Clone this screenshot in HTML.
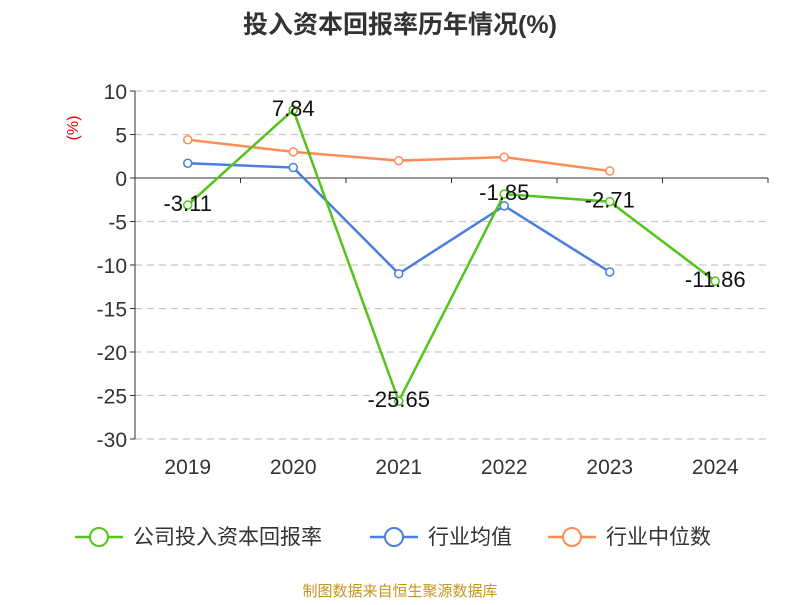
<!DOCTYPE html>
<html><head><meta charset="utf-8"><style>
body{margin:0;background:#fff;font-family:"Liberation Sans","Noto Sans CJK SC",sans-serif;}
</style></head><body>
<svg width="800" height="600" xmlns="http://www.w3.org/2000/svg" font-family="Liberation Sans, Noto Sans CJK SC, sans-serif">
<text x="400" y="33" text-anchor="middle" font-size="25" font-weight="bold" fill="#333">投入资本回报率历年情况(%)</text>
<text x="78" y="128" font-size="16" fill="#e00" transform="rotate(-90 78 128)" text-anchor="middle">(%)</text>
<g id="grid"></g><g id="axes"></g><g id="series"></g>
<g font-size="21" fill="#333">
<g><line x1="75" y1="537" x2="123" y2="537" stroke="#52c41a" stroke-width="2.5"/><circle cx="99" cy="537" r="9" fill="#fff" stroke="#52c41a" stroke-width="2"/><text x="133" y="544">公司投入资本回报率</text></g>
<g><line x1="370" y1="537" x2="418" y2="537" stroke="#4a7de0" stroke-width="2.5"/><circle cx="394" cy="537" r="9" fill="#fff" stroke="#4a7de0" stroke-width="2"/><text x="428" y="544">行业均值</text></g>
<g><line x1="548" y1="537" x2="596" y2="537" stroke="#ff8c55" stroke-width="2.5"/><circle cx="572" cy="537" r="9" fill="#fff" stroke="#ff8c55" stroke-width="2"/><text x="606" y="544">行业中位数</text></g>
</g>
<text x="400" y="596" text-anchor="middle" font-size="15" fill="#c8961e">制图数据来自恒生聚源数据库</text>
</svg>
<script>
const categories=["2019","2020","2021","2022","2023","2024"];
const companyValues=[-3.11,7.84,-25.65,-1.85,-2.71,-11.86];
const industryAvg=[1.7,1.2,-11.0,-3.2,-10.8,null];
const industryMedian=[4.4,3.0,2.0,2.4,0.8,null];
const yTicks=[10,5,0,-5,-10,-15,-20,-25,-30];
const NS="http://www.w3.org/2000/svg";
const left=135,right=768,yTop=91,yBot=439,yMax=10,yMin=-30;
const y=v=>yTop+(yMax-v)/(yMax-yMin)*(yBot-yTop);
const band=(right-left)/categories.length;
const x=i=>left+band*(i+0.5);
function mk(t,a,p){const e=document.createElementNS(NS,t);for(const k in a)e.setAttribute(k,a[k]);p.appendChild(e);return e;}
const grid=document.getElementById('grid'),axes=document.getElementById('axes'),ser=document.getElementById('series');
yTicks.forEach(t=>{
 if(t!==0){const g=mk('line',{x1:left,x2:right,y1:y(t),y2:y(t),stroke:'#c8c8c8','stroke-dasharray':'7,5','stroke-width':1.2},grid);
 
 }
 const tk=mk('line',{x1:left-5,x2:left,y1:y(t),y2:y(t),stroke:'#333'},axes);
 
 
 const l=mk('text',{x:left-8,y:y(t)+8,'text-anchor':'end','font-size':21,fill:'#333'},axes);l.textContent=t;
 
 
});
const ya=mk('line',{x1:left,x2:left,y1:yTop,y2:yBot,stroke:'#333'},axes);


const xa=mk('line',{x1:left,x2:right,y1:y(0),y2:y(0),stroke:'#333'},axes);


for(let i=0;i<=categories.length;i++){const t=mk('line',{x1:left+band*i,x2:left+band*i,y1:y(0),y2:y(0)+5,stroke:'#333'},axes);
 
 }
categories.forEach((c,i)=>{const l=mk('text',{x:x(i),y:474,'text-anchor':'middle','font-size':21,fill:'#333'},axes);l.textContent=c;
 
 });
function draw(vals,color,name,labels){
 const g=mk('g',{},ser);
 
 
 const pts=vals.map((v,i)=>v==null?null:[x(i),y(v)]).filter(p=>p);
 mk('polyline',{points:pts.map(p=>p.join(',')).join(' '),fill:'none',stroke:color,'stroke-width':2.5},g);
 vals.forEach((v,i)=>{if(v==null)return;
  const c=mk('circle',{cx:x(i),cy:y(v),r:4,fill:'#fff',stroke:color,'stroke-width':1.5},g);
  
  
  if(labels){const t=mk('text',{x:x(i),y:y(v)+6,'text-anchor':'middle','font-size':22,fill:'#111'},g);t.textContent=v.toFixed(2);
   
   }
 });
}
draw(industryMedian,'#ff8c55','industry-median-line',false);
draw(industryAvg,'#4a7de0','industry-avg-line',false);
draw(companyValues,'#52c41a','company-line',true);
</script>
</body></html>
